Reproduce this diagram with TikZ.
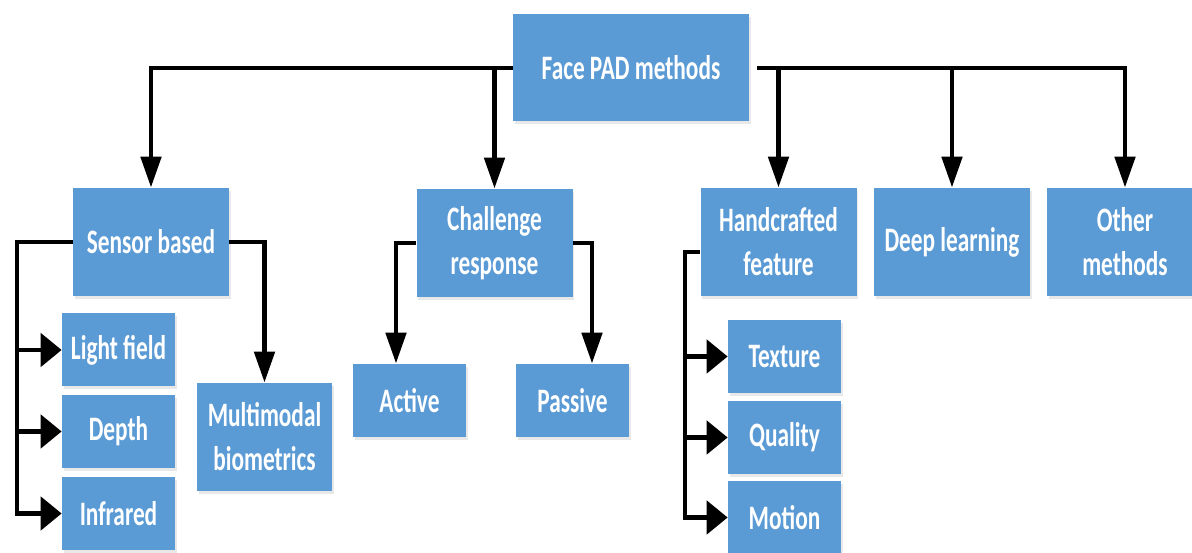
\documentclass[tikz,border=0pt]{standalone}
\usepackage{fontspec}
\setmainfont{Carlito}[FakeStretch=0.68]
\usetikzlibrary{positioning,arrows.meta,shadows}
\definecolor{boxblue}{RGB}{91,155,213}

\begin{document}
\begin{tikzpicture}[font=\fontsize{19.5}{25}\selectfont\bfseries,
  box/.style={fill=boxblue,text=white,align=center,inner sep=0pt,
    drop shadow={shadow xshift=0.03cm,shadow yshift=-0.06cm,opacity=0.18}},
  big/.style={box,minimum width=3.12cm,minimum height=2.16cm},
  small/.style={box,minimum width=2.26cm,minimum height=1.46cm},
  link/.style={line width=2.8pt},
  arr/.style={link,-{Triangle[length=0.62cm,width=0.4cm]}},
  harr/.style={link,-{Triangle[length=0.42cm,width=0.66cm]}}]
  \clip (0,0) rectangle (23.84,11.06);
  % top level
  \node[box,minimum width=4.72cm,minimum height=2.14cm] (pad) at (12.62,9.70) {Face PAD methods};
  \node[big] (sensor) at (3.02,6.22) {Sensor based};
  \node[big] (chal) at (9.89,6.20) {Challenge\\response};
  \node[big] (hand) at (15.57,6.22) {Handcrafted\\feature};
  \node[big] (deep) at (19.04,6.22) {Deep learning};
  \node[big] (other) at (22.50,6.22) {Other\\methods};
  % second level
  \node[small] (light) at (2.37,4.06) {Light field};
  \node[small] (depth) at (2.37,2.43) {Depth};
  \node[small] (infra) at (2.37,0.79) {Infrared};
  \node[box,minimum width=2.7cm,minimum height=2.16cm] (multi) at (5.29,2.32) {Multimodal\\biometrics};
  \node[small] (active) at (8.19,3.05) {Active};
  \node[small] (passive) at (11.45,3.05) {Passive};
  \node[small] (texture) at (15.69,3.93) {Texture};
  \node[small] (quality) at (15.69,2.31) {Quality};
  \node[small] (motion) at (15.69,0.71) {Motion};
  % connectors
  \draw[arr] (pad.west) -| (sensor.north);
  \draw[arr] (chal.north |- pad.west) -- (chal.north);
  \draw[arr] ([xshift=0.16cm]pad.east) -| (other.north);
  \draw[arr] (hand.north |- pad.east) -- (hand.north);
  \draw[arr] (deep.north |- pad.east) -- (deep.north);
  \coordinate (sl) at (0.34,6.22);
  \draw[harr] (sensor.west) -- (sl) |- (infra.west);
  \draw[harr] (sl |- light.west) -- (light.west);
  \draw[harr] (sl |- depth.west) -- (depth.west);
  \draw[arr] (sensor.east) -| (multi.north);
  \draw[arr] (chal.west) -| ([xshift=-0.27cm]active.north);
  \draw[arr] (chal.east) -| ([xshift=0.39cm]passive.north);
  \coordinate (hl) at (13.70,6.02);
  \draw[harr] ([yshift=-0.2cm]hand.west) -- (hl) |- (motion.west);
  \draw[harr] (hl |- texture.west) -- (texture.west);
  \draw[harr] (hl |- quality.west) -- (quality.west);
\end{tikzpicture}
\end{document}
